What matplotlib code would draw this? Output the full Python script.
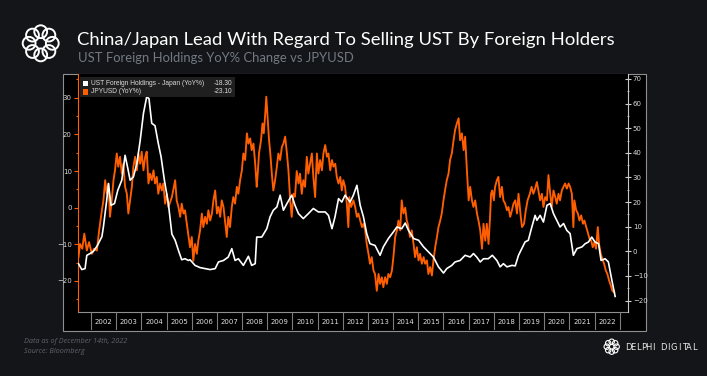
import numpy as np
import matplotlib.pyplot as plt
from matplotlib.patches import Rectangle, Circle
from matplotlib.ticker import MultipleLocator

W, H = 707, 376
BG = '#141518'
ORANGE = '#ff5f00'

# JPYUSD YoY % (left axis)
jpy_years = [
    2001.50, 2001.56, 2001.65, 2001.73, 2001.83, 2001.92, 2002.03, 2002.12, 2002.23, 2002.32,
    2002.43, 2002.49, 2002.56, 2002.62, 2002.69, 2002.75, 2002.82, 2002.89, 2002.95, 2003.02,
    2003.08, 2003.15, 2003.22, 2003.28, 2003.35, 2003.42, 2003.48, 2003.55, 2003.62, 2003.68,
    2003.75, 2003.82, 2003.88, 2003.95, 2004.01, 2004.08, 2004.15, 2004.21, 2004.28, 2004.34,
    2004.41, 2004.48, 2004.54, 2004.61, 2004.67, 2004.74, 2004.81, 2004.87, 2004.94, 2005.01,
    2005.07, 2005.14, 2005.21, 2005.27, 2005.34, 2005.40, 2005.47, 2005.54, 2005.60, 2005.67,
    2005.73, 2005.84, 2005.93, 2006.00, 2006.06, 2006.13, 2006.20, 2006.26, 2006.33, 2006.40,
    2006.46, 2006.53, 2006.60, 2006.66, 2006.73, 2006.80, 2006.86, 2006.93, 2007.00, 2007.06,
    2007.13, 2007.19, 2007.26, 2007.32, 2007.39, 2007.45, 2007.52, 2007.59, 2007.65, 2007.72,
    2007.79, 2007.85, 2007.92, 2007.99, 2008.05, 2008.12, 2008.19, 2008.25, 2008.32, 2008.38,
    2008.45, 2008.52, 2008.58, 2008.62, 2008.67, 2008.75, 2008.81, 2008.86, 2008.91, 2008.96,
    2009.02, 2009.07, 2009.12, 2009.18, 2009.24, 2009.31, 2009.38, 2009.44, 2009.51, 2009.58,
    2009.64, 2009.71, 2009.78, 2009.84, 2009.91, 2009.97, 2010.04, 2010.10, 2010.17, 2010.24,
    2010.30, 2010.37, 2010.43, 2010.50, 2010.57, 2010.63, 2010.70, 2010.77, 2010.83, 2010.90,
    2010.97, 2011.03, 2011.10, 2011.17, 2011.23, 2011.30, 2011.37, 2011.43, 2011.50, 2011.57,
    2011.63, 2011.70, 2011.76, 2011.83, 2011.90, 2011.96, 2012.02, 2012.09, 2012.16, 2012.22,
    2012.26, 2012.33, 2012.42, 2012.49, 2012.56, 2012.62, 2012.69, 2012.76, 2012.82, 2012.89,
    2012.95, 2013.02, 2013.08, 2013.15, 2013.22, 2013.28, 2013.35, 2013.42, 2013.48, 2013.55,
    2013.61, 2013.68, 2013.75, 2013.81, 2013.88, 2013.95, 2014.01, 2014.08, 2014.15, 2014.21,
    2014.28, 2014.34, 2014.41, 2014.48, 2014.54, 2014.58, 2014.67, 2014.74, 2014.81, 2014.87,
    2014.94, 2015.01, 2015.07, 2015.14, 2015.21, 2015.27, 2015.34, 2015.40, 2015.47, 2015.54,
    2015.60, 2015.67, 2015.74, 2015.80, 2015.87, 2015.93, 2016.00, 2016.06, 2016.13, 2016.20,
    2016.26, 2016.33, 2016.40, 2016.46, 2016.53, 2016.60, 2016.66, 2016.73, 2016.80, 2016.86,
    2016.93, 2017.00, 2017.06, 2017.13, 2017.19, 2017.26, 2017.33, 2017.39, 2017.46, 2017.53,
    2017.59, 2017.66, 2017.72, 2017.79, 2017.85, 2017.89, 2017.94, 2018.00, 2018.05, 2018.12,
    2018.18, 2018.25, 2018.32, 2018.38, 2018.45, 2018.52, 2018.58, 2018.65, 2018.72, 2018.78,
    2018.85, 2018.92, 2018.98, 2019.07, 2019.12, 2019.20, 2019.27, 2019.34, 2019.43, 2019.50,
    2019.57, 2019.64, 2019.71, 2019.77, 2019.84, 2019.91, 2019.97, 2020.04, 2020.11, 2020.17,
    2020.24, 2020.30, 2020.37, 2020.44, 2020.50, 2020.57, 2020.63, 2020.70, 2020.77, 2020.83,
    2020.90, 2020.97, 2021.03, 2021.10, 2021.16, 2021.20, 2021.27, 2021.34, 2021.40, 2021.47,
    2021.54, 2021.60, 2021.67, 2021.73, 2021.80, 2021.87, 2021.93, 2022.00, 2022.06, 2022.13,
    2022.18, 2022.25, 2022.31, 2022.38, 2022.45, 2022.51, 2022.58, 2022.65, 2022.71, 2022.78,
]
jpy_yoy = [
    -13.5, -9.9, -11.2, -7.1, -11.7, -9.4, -12.6, -11.2, -11.7, -6.2,
    -0.7, 2.0, 7.5, 3.8, 6.6, -2.5, 2.0, 7.5, 10.2, 14.8,
    11.2, 13.9, 9.3, 12.0, 5.7, 3.8, -1.6, 2.0, 5.7, 11.2,
    13.9, 10.2, 14.8, 12.0, 15.3, 10.2, 13.9, 15.3, 6.6, 9.3,
    7.5, 10.2, 6.6, 8.4, 3.8, 6.6, 4.7, 6.6, 1.1, 3.8,
    0.2, 1.5, 2.9, 5.0, 7.5, 2.0, 0.2, -2.5, 1.1, -1.6,
    -0.7, -6.2, -10.8, -8.0, -14.5, -9.9, -12.6, -9.0, -6.2, -1.6,
    -5.3, -2.5, -4.4, -0.7, -3.5, -1.6, 2.0, 4.7, -1.6, 0.2,
    -2.5, 2.0, 0.2, -3.5, -8.0, -2.5, -5.3, 0.2, 2.9, 1.1,
    5.7, 3.8, 7.5, 10.2, 14.8, 13.0, 20.3, 17.5, 18.9, 15.7,
    17.5, 12.0, 5.7, 9.3, 14.8, 18.4, 23.0, 20.3, 24.8, 30.3,
    23.9, 18.4, 14.8, 9.3, 4.7, 7.5, 11.2, 14.8, 13.0, 16.6,
    17.5, 19.4, 14.8, 10.2, 2.0, -2.5, 3.8, 3.0, 10.0, 6.6,
    9.3, 3.8, 7.5, 5.7, 13.9, 9.3, 12.0, 14.8, 8.4, 2.9,
    14.8, 9.3, 13.0, 10.2, 14.8, 17.1, 13.9, 14.8, 10.2, 13.0,
    11.2, 12.0, 8.4, 6.6, 8.4, 4.7, 7.5, 5.7, 1.1, -5.3,
    2.9, 0.2, 2.0, 0.2, -2.5, -1.6, -3.5, -5.3, -4.4, -6.2,
    -9.9, -12.6, -15.3, -13.5, -17.2, -18.1, -22.7, -18.1, -20.8, -19.0,
    -21.7, -19.0, -20.8, -18.1, -19.0, -17.2, -13.5, -8.0, -6.2, -3.5,
    -6.2, 2.0, -1.6, 0.0, -3.5, -4.4, -8.0, -6.2, -9.9, -13.5,
    -10.8, -14.4, -12.6, -15.3, -13.5, -15.3, -14.4, -18.1, -16.2, -18.5,
    -14.4, -10.8, -8.0, -5.3, -3.5, -1.6, 2.0, 4.7, 7.5, 9.3,
    13.0, 14.8, 18.4, 21.2, 23.0, 24.4, 18.4, 20.3, 15.7, 19.4,
    10.2, 2.0, 5.7, 2.0, 0.2, 2.0, -1.6, -3.5, -6.2, -11.2,
    -4.4, -9.0, -4.4, -9.9, -2.5, 3.8, 4.7, 2.0, 5.7, 7.5,
    8.4, 2.9, 5.7, 2.0, 1.1, -0.7, 0.2, -2.5, -0.7, 1.1,
    2.0, -1.6, 3.8, -2.5, -5.3, -4.4, -0.7, 2.0, 3.8, 5.7,
    3.8, 5.2, 7.0, 4.7, 2.0, 3.8, 0.2, 2.9, 2.0, 8.9,
    3.8, 0.2, 4.7, 2.9, 1.1, 3.8, 2.0, 4.7, 5.7, 6.6,
    5.2, 6.6, 5.7, 3.8, -5.3, 2.0, -0.7, -1.6, -3.5, -2.1,
    -4.4, -3.5, -5.3, -6.7, -8.5, -9.0, -10.8, -9.4, -11.2, -5.3,
    -9.9, -12.6, -14.0, -15.3, -17.2, -18.1, -19.9, -21.3, -22.7, -23.1,
]

# UST Foreign Holdings - Japan YoY % (right axis)
ust_years = [
    2001.50, 2001.63, 2001.76, 2001.83, 2001.96, 2002.09, 2002.23, 2002.43, 2002.49, 2002.62,
    2002.69, 2002.79, 2002.93, 2003.06, 2003.22, 2003.35, 2003.46, 2003.55, 2003.68, 2003.82,
    2003.95, 2004.08, 2004.21, 2004.30, 2004.41, 2004.54, 2004.61, 2004.67, 2004.78, 2004.91,
    2005.07, 2005.21, 2005.34, 2005.47, 2005.60, 2005.73, 2005.87, 2005.93, 2006.13, 2006.33,
    2006.53, 2006.73, 2006.93, 2007.06, 2007.26, 2007.45, 2007.59, 2007.72, 2007.85, 2008.05,
    2008.25, 2008.38, 2008.52, 2008.58, 2008.78, 2008.98, 2009.11, 2009.24, 2009.38, 2009.51,
    2009.64, 2009.78, 2009.97, 2010.10, 2010.24, 2010.43, 2010.63, 2010.83, 2011.03, 2011.30,
    2011.43, 2011.57, 2011.69, 2011.83, 2011.96, 2012.09, 2012.29, 2012.42, 2012.56, 2012.69,
    2012.82, 2012.95, 2013.08, 2013.28, 2013.48, 2013.61, 2013.81, 2014.01, 2014.15, 2014.34,
    2014.48, 2014.61, 2014.81, 2015.01, 2015.21, 2015.40, 2015.60, 2015.80, 2016.00, 2016.13,
    2016.33, 2016.46, 2016.66, 2016.86, 2017.06, 2017.19, 2017.32, 2017.46, 2017.59, 2017.78,
    2017.94, 2018.12, 2018.25, 2018.38, 2018.52, 2018.72, 2018.85, 2018.98, 2019.11, 2019.24,
    2019.37, 2019.51, 2019.64, 2019.71, 2019.84, 2019.97, 2020.11, 2020.24, 2020.37, 2020.50,
    2020.63, 2020.77, 2020.90, 2021.03, 2021.16, 2021.30, 2021.50, 2021.63, 2021.76, 2021.89,
    2022.02, 2022.16, 2022.26, 2022.42, 2022.55, 2022.69, 2022.82,
]
ust_yoy = [
    -5.0, -7.4, -7.0, -1.6, -0.9, 0.0, 2.0, 6.0, 10.0, 20.7,
    27.5, 18.7, 19.4, 24.8, 28.9, 39.0, 33.6, 28.9, 30.2, 35.7,
    45.0, 56.0, 62.8, 62.0, 52.0, 51.0, 47.0, 43.8, 38.4, 29.0,
    19.4, 7.0, 4.5, 0.4, -3.4, -3.0, -3.7, -3.4, -5.7, -6.6,
    -7.0, -7.4, -7.0, -4.3, -3.7, -2.3, 1.1, -3.7, -3.0, -5.7,
    -2.0, -5.7, -5.0, 5.8, 5.8, 9.2, 14.0, 16.7, 18.0, 22.8,
    16.7, 19.4, 22.8, 18.7, 15.3, 13.3, 15.3, 17.4, 16.0, 16.0,
    14.6, 9.2, 14.0, 21.4, 20.0, 22.8, 20.0, 22.8, 26.8, 18.7,
    14.0, 7.2, 3.1, 2.4, -1.6, 1.8, 5.2, 7.9, 9.9, 9.2,
    11.5, 8.5, 5.2, 4.5, 1.8, -0.2, -2.3, -6.3, -8.8, -7.0,
    -5.7, -4.3, -3.7, -1.6, -2.3, -0.9, -2.3, -4.3, -3.0, -3.0,
    -1.6, -3.7, -6.3, -5.0, -6.3, -5.7, -5.9, -1.6, 1.1, 3.8,
    4.5, 9.9, 14.6, 12.6, 14.6, 11.9, 18.7, 19.4, 15.3, 12.6,
    9.9, 11.3, 8.5, 7.2, -1.6, 1.1, 1.8, 3.1, 3.8, 5.8,
    3.8, 3.1, -3.7, -3.0, -4.3, -11.8, -18.3,
]

year_labels = list(range(2002, 2023))


def fx(x):
    return x / W


def fy(y):
    return 1 - y / H


def draw_knot(cx, cy, size, lw):
    a = fig.add_axes([fx(cx - size / 2), fy(cy + size / 2), size / W, size / H])
    a.set_xlim(-1, 1)
    a.set_ylim(-1, 1)
    a.set_aspect('equal')
    a.axis('off')
    for k in range(8):
        ang = k * np.pi / 4
        a.add_patch(Circle((0.58 * np.cos(ang), 0.58 * np.sin(ang)), 0.32,
                           fill=False, edgecolor='white', lw=lw))


fig = plt.figure(figsize=(W / 100, H / 100), dpi=100, facecolor=BG)

# chart panel (behind the axes)
fig.patches.append(Rectangle((fx(63), fy(331)), (646 - 63) / W, (331 - 74) / H,
                             transform=fig.transFigure, facecolor='black',
                             edgecolor='#8f8f8f', lw=0.8, zorder=-1))

ax = fig.add_axes([fx(78), fy(311.7), (628 - 78) / W, (311.7 - 74) / H])
ax.set_facecolor('black')
ax.plot(jpy_years, jpy_yoy, color=ORANGE, lw=1.35)
ax.set_xlim(2001.48, 2023.33)
ax.set_ylim(-28.4, 36.5)
ax.set_xticks([])
ax.set_yticks([-20, -10, 0, 10, 20, 30])
ax.yaxis.set_minor_locator(MultipleLocator(5))
ax.tick_params(axis='y', which='major', color=ORANGE, labelcolor='#d8d8d8',
               length=3, width=0.8, labelsize=5, pad=1.5)
ax.tick_params(axis='y', which='minor', color=ORANGE, length=1.5, width=0.8)
for s in ['top', 'right']:
    ax.spines[s].set_visible(False)
ax.spines['left'].set_color(ORANGE)
ax.spines['bottom'].set_color('#8f8f8f')
ax.spines['bottom'].set_linewidth(0.8)

ax2 = ax.twinx()
ax2.plot(ust_years, ust_yoy, color='white', lw=1.2)
ax2.set_ylim(-24.5, 72.0)
ax2.set_yticks(list(range(-20, 71, 10)))
ax2.yaxis.set_minor_locator(MultipleLocator(5))
ax2.tick_params(axis='y', which='major', direction='inout', color='#d0d0d0',
                labelcolor='#d8d8d8', length=4, width=0.8, labelsize=5, pad=1.5)
ax2.tick_params(axis='y', which='minor', direction='inout', color='#d0d0d0',
                length=2, width=0.6)
for s in ['top', 'left', 'bottom']:
    ax2.spines[s].set_visible(False)
ax2.spines['right'].set_color('#c8c8c8')
ax2.spines['right'].set_linewidth(0.8)

# year boxes under the plot
ay = fig.add_axes([fx(78), fy(330), (628 - 78) / W, (330 - 311.7) / H])
ay.set_xlim(ax.get_xlim())
ay.set_ylim(0, 1)
ay.axis('off')
ay.vlines(year_labels + [year_labels[-1] + 1], 0, 1, color='#7d7d7d', lw=0.8)
for yr in year_labels:
    ay.text(yr + 0.5, 0.42, str(yr), color='#e0e0e0', fontsize=5, ha='center', va='center')

# legend box
fig.patches.append(Rectangle((fx(80), fy(96.5)), (235 - 80) / W, (96.5 - 76.7) / H,
                             transform=fig.transFigure, facecolor='#1f1f1f',
                             edgecolor='none', zorder=5))
fig.patches.append(Rectangle((fx(83), fy(86)), 5 / W, 5 / H, transform=fig.transFigure,
                             facecolor='white', edgecolor='none', zorder=6))
fig.patches.append(Rectangle((fx(83), fy(94.5)), 5 / W, 5 / H, transform=fig.transFigure,
                             facecolor=ORANGE, edgecolor='none', zorder=6))
leg_kw = dict(color='#dcdcdc', fontsize=4.8, va='center', zorder=7, family='Liberation Sans')
fig.text(fx(91), fy(83.3), 'UST Foreign Holdings - Japan (YoY%)', **leg_kw)
fig.text(fx(232), fy(83.3), '-18.30', ha='right', **leg_kw)
fig.text(fx(91), fy(91.8), 'JPYUSD (YoY%)', **leg_kw)
fig.text(fx(232), fy(91.8), '-23.10', ha='right', **leg_kw)

# header
draw_knot(40.7, 43.3, 40, 1.4)
fig.text(fx(77), fy(40.5), 'China/Japan Lead With Regard To Selling UST By Foreign Holders',
         color='white', fontsize=13.3, family='Lato', va='center')
fig.text(fx(78), fy(58.5), 'UST Foreign Holdings YoY% Change vs JPYUSD',
         color='#727a84', fontsize=9.4, family='Lato', va='center')

# footer
foot_kw = dict(color='#5e636b', fontsize=5.2, style='italic', family='Open Sans', va='center')
fig.text(fx(24), fy(341.5), 'Data as of December 14th, 2022', **foot_kw)
fig.text(fx(24), fy(351.8), 'Source: Bloomberg', **foot_kw)

draw_knot(611.7, 346.7, 17, 0.8)
for i, ch in enumerate('DELPHI DIGITAL'):
    fig.text(fx(628 + i * 5.1), fy(347), ch, color='#e8e8e8', fontsize=6,
             family='DejaVu Sans', ha='center', va='center')

fig.savefig('out.png', dpi=100, facecolor=BG)
